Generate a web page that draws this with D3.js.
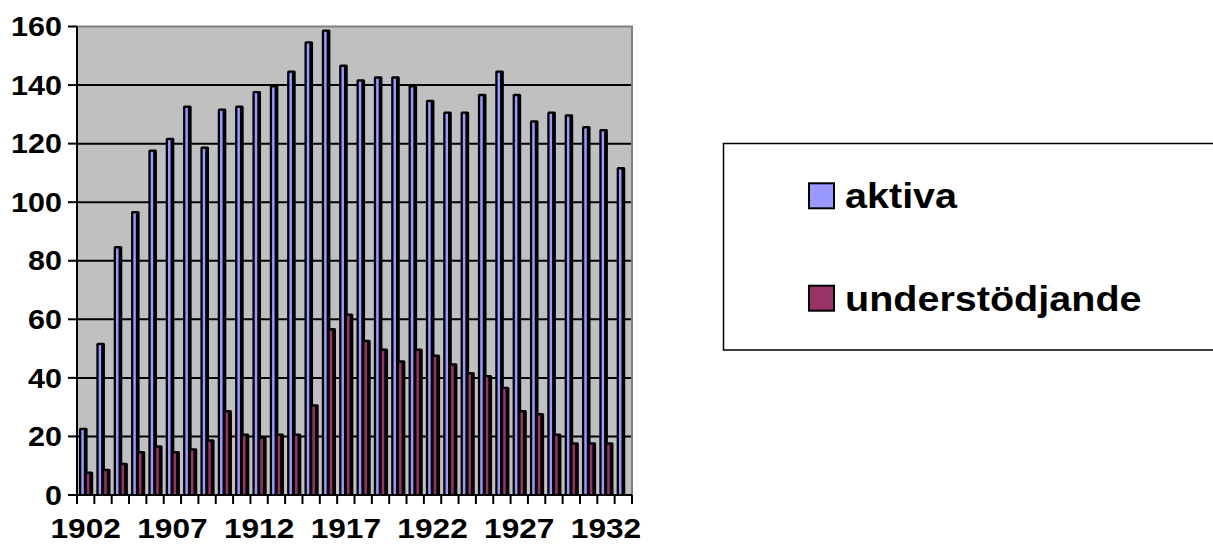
<!DOCTYPE html>
<html lang="sv">
<head>
<meta charset="UTF-8">
<title>aktiva / understödjande</title>
<script src="https://d3js.org/d3.v7.min.js"></script>
<style>
    body { margin: 0; background: #ffffff; }
    svg { display: block; }
    text { font-family: "Liberation Sans", Arial, sans-serif; font-weight: bold; fill: #000; }
</style>
</head>
<body>
<svg id="chart" width="1213" height="544"></svg>
<script>
    // data
    const years = d3.range(1902, 1934).map(String);
    const aktiva = [23, 52, 85, 97, 118, 122, 133, 119, 132, 133, 138, 140, 145, 155, 159, 147,
        142, 143, 143, 140, 135, 131, 131, 137, 145, 137, 128, 131, 130, 126, 125, 112];
    const understodjande = [8, 9, 11, 15, 17, 15, 16, 19, 29, 21, 20, 21, 21, 31, 57, 62,
        53, 50, 46, 50, 48, 45, 42, 41, 37, 29, 28, 21, 18, 18, 18, null];
    const seriesNames = ["aktiva", "understödjande"];
    const seriesColors = ["#9999ff", "#993366"];
    const yTicks = [0, 20, 40, 60, 80, 100, 120, 140, 160];
    const xLabelEvery = 5;

    const seriesValues = [aktiva, understodjande];
    const stretch = 1.13; // the old chart font is drawn a bit wide

    const svg = d3.select("#chart");

    const plot = { left: 77, right: 632, top: 26.5, bottom: 495 };

    const x0 = d3.scaleBand().domain(years).range([plot.left, plot.right]);
    const x1 = d3.scaleBand().domain(seriesNames).range([2, 13.2]);
    const y = d3.scaleLinear().domain([0, 160]).range([plot.bottom, plot.top]);

    // plot background
    svg.append("rect")
        .attr("x", plot.left).attr("y", plot.top)
        .attr("width", plot.right - plot.left).attr("height", plot.bottom - plot.top)
        .attr("fill", "#c0c0c0");

    // gridlines
    svg.append("g")
        .selectAll("line")
        .data(yTicks.filter(t => t > 0 && t < 160))
        .join("line")
        .attr("x1", plot.left).attr("x2", plot.right)
        .attr("y1", d => y(d)).attr("y2", d => y(d))
        .attr("stroke", "#000").attr("stroke-width", 2);

    // grey frame on top and right
    svg.append("path")
        .attr("d", `M${plot.left},${plot.top}H${plot.right}V${plot.bottom}`)
        .attr("fill", "none").attr("stroke", "#808080").attr("stroke-width", 2);

    // bars
    const rows = years.map((yr, i) => ({ year: yr, vals: seriesValues.map(s => s[i]) }));
    const groups = svg.append("g").selectAll("g")
        .data(rows)
        .join("g")
        .attr("transform", d => `translate(${x0(d.year)},0)`);

    const bars = groups.selectAll("g")
        .data(d => seriesNames.map((name, k) => ({ name, k, value: d.vals[k] }))
            .filter(b => b.value != null))
        .join("g");

    bars.append("rect")
        .attr("x", d => x1(d.name))
        .attr("y", d => y(d.value))
        .attr("width", 8.6)
        .attr("height", d => plot.bottom - y(d.value))
        .attr("rx", 1.5)
        .attr("fill", "#000");

    bars.append("rect")
        .attr("x", d => x1(d.name) + 2.3)
        .attr("y", d => y(d.value) + 2.4)
        .attr("width", 2.5)
        .attr("height", d => Math.max(0, plot.bottom - y(d.value) - 2.4))
        .attr("fill", d => seriesColors[d.k]);

    // y axis
    svg.append("line")
        .attr("x1", plot.left).attr("x2", plot.left)
        .attr("y1", plot.top).attr("y2", plot.bottom + 1)
        .attr("stroke", "#000").attr("stroke-width", 2);

    const yAx = svg.append("g").selectAll("g")
        .data(yTicks)
        .join("g");
    yAx.append("line")
        .attr("x1", 68).attr("x2", plot.left)
        .attr("y1", d => y(d)).attr("y2", d => y(d))
        .attr("stroke", "#000").attr("stroke-width", 2);
    yAx.append("text")
        .attr("transform", d => `translate(62,${y(d)}) scale(${stretch},1)`)
        .attr("text-anchor", "end")
        .attr("dy", "0.36em")
        .attr("font-size", 27)
        .text(d => d);

    // x axis
    svg.append("line")
        .attr("x1", plot.left - 1).attr("x2", plot.right)
        .attr("y1", plot.bottom).attr("y2", plot.bottom)
        .attr("stroke", "#000").attr("stroke-width", 2);

    const boundaries = years.map(yr => x0(yr)).concat([plot.right]);
    svg.append("g").selectAll("line")
        .data(boundaries)
        .join("line")
        .attr("x1", d => d).attr("x2", d => d)
        .attr("y1", plot.bottom).attr("y2", plot.bottom + 9)
        .attr("stroke", "#000").attr("stroke-width", 2);

    svg.append("g").selectAll("text")
        .data(years.filter((yr, i) => i % xLabelEvery === 0))
        .join("text")
        .attr("transform", d => `translate(${x0(d) + x0.bandwidth() / 2},538) scale(${stretch},1)`)
        .attr("text-anchor", "middle")
        .attr("font-size", 28)
        .text(d => d);

    // legend
    const legend = svg.append("g");
    legend.append("rect")
        .attr("x", 723.5).attr("y", 143.5)
        .attr("width", 520).attr("height", 206.5)
        .attr("fill", "#fff").attr("stroke", "#000").attr("stroke-width", 1.5);

    const legendRows = [208.3, 310.7];
    const li = legend.selectAll("g.item")
        .data(seriesNames)
        .join("g")
        .attr("class", "item");
    li.append("rect")
        .attr("x", 809).attr("y", (d, i) => legendRows[i] - 25)
        .attr("width", 25).attr("height", 25)
        .attr("fill", (d, i) => seriesColors[i])
        .attr("stroke", "#000").attr("stroke-width", 2);
    li.append("text")
        .attr("transform", (d, i) => `translate(845,${legendRows[i]}) scale(${stretch},1)`)
        .attr("font-size", 35)
        .text(d => d);
</script>
</body>
</html>
